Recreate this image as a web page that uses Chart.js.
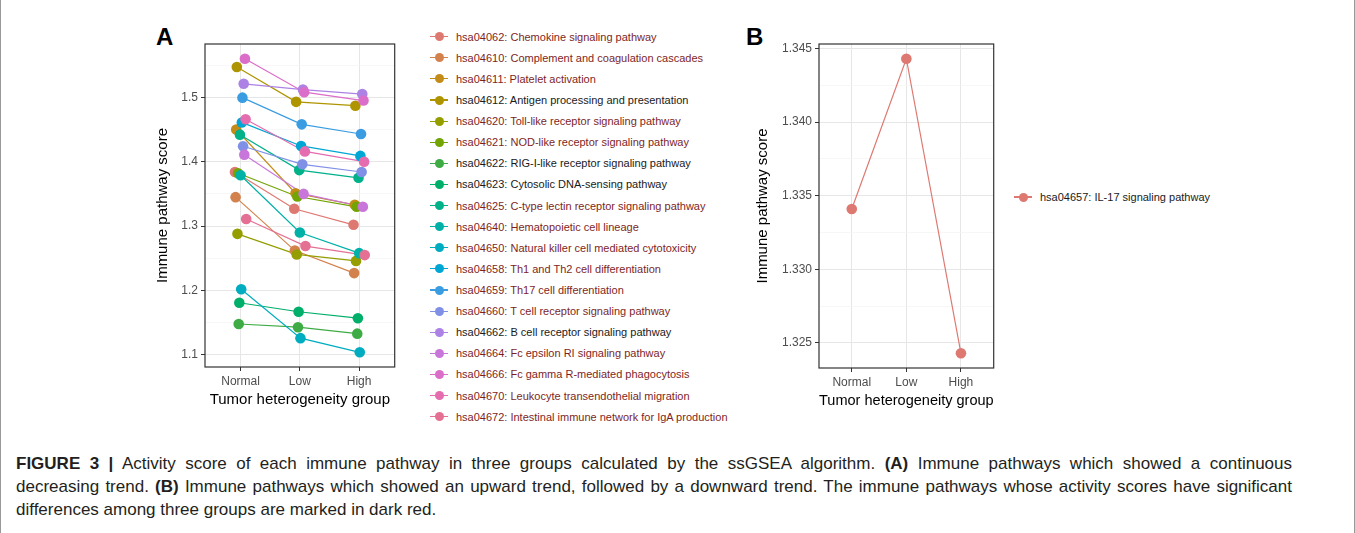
<!DOCTYPE html>
<html>
<head>
<meta charset="utf-8">
<script src="https://cdn.jsdelivr.net/npm/chart.js@4.4.1/dist/chart.umd.min.js"></script>
<style>
	html, body { margin: 0; padding: 0; background: #fff; }
	body { width: 1355px; height: 533px; position: relative; overflow: hidden; font-family: 'Liberation Sans', Arial, sans-serif; }
	.frame { position: absolute; left: 0; top: 0; width: 1353px; height: 533px; border-left: 1px solid #999; border-right: 1px solid #999; }
	canvas { position: absolute; top: 0; }
	#chartA { left: 150px; }
	#chartB { left: 750px; }
	.tag { position: absolute; top: 25px; font-size: 24px; line-height: 24px; font-weight: bold; color: #000; }
	.legend { position: absolute; top: 0; font-size: 11px; }
	.item { position: absolute; left: 0; height: 14px; white-space: nowrap; }
	.key-line { position: absolute; left: 0; top: 6.4px; width: 18px; height: 1.2px; }
	.key-dot { position: absolute; left: 4.5px; top: 2.5px; width: 9px; height: 9px; border-radius: 50%; }
	.item span { position: absolute; left: 26px; top: 0; line-height: 14px; }
	.caption { position: absolute; left: 16px; top: 452px; width: 1276px; font-size: 17px; line-height: 23px; color: #231f20; }
	.caption div { white-space: nowrap; }
	.caption .full { text-align: justify; text-align-last: justify; white-space: normal; }
</style>
</head>
<body>
<div class="frame"></div>
<div class="tag" style="left:156px">A</div>
<div class="tag" style="left:746px">B</div>
<canvas id="chartA" width="250" height="420"></canvas>
<canvas id="chartB" width="249" height="421"></canvas>
<div class="legend" id="legendA" style="left:430px"></div>
<div class="legend" id="legendB" style="left:1014px"></div>
<div class="caption">
	<div class="full"><b>FIGURE 3 |</b> Activity score of each immune pathway in three groups calculated by the ssGSEA algorithm. <b>(A)</b> Immune pathways which showed a continuous</div>
	<div class="full">decreasing trend. <b>(B)</b> Immune pathways which showed an upward trend, followed by a downward trend. The immune pathways whose activity scores have significant</div>
	<div>differences among three groups are marked in dark red.</div>
</div>
<script>
// Группы по оси X
const groups = ['Normal', 'Low', 'High'];

// Панель A: пути с непрерывным снижением
const pathwayCodes = [
	'hsa04062', 'hsa04610', 'hsa04611', 'hsa04612', 'hsa04620', 'hsa04621', 'hsa04622',
	'hsa04623', 'hsa04625', 'hsa04640', 'hsa04650', 'hsa04658', 'hsa04659', 'hsa04660',
	'hsa04662', 'hsa04664', 'hsa04666', 'hsa04670', 'hsa04672'
];
const pathwayNames = [
	'Chemokine signaling pathway',
	'Complement and coagulation cascades',
	'Platelet activation',
	'Antigen processing and presentation',
	'Toll-like receptor signaling pathway',
	'NOD-like receptor signaling pathway',
	'RIG-I-like receptor signaling pathway',
	'Cytosolic DNA-sensing pathway',
	'C-type lectin receptor signaling pathway',
	'Hematopoietic cell lineage',
	'Natural killer cell mediated cytotoxicity',
	'Th1 and Th2 cell differentiation',
	'Th17 cell differentiation',
	'T cell receptor signaling pathway',
	'B cell receptor signaling pathway',
	'Fc epsilon RI signaling pathway',
	'Fc gamma R-mediated phagocytosis',
	'Leukocyte transendothelial migration',
	'Intestinal immune network for IgA production'
];
const significant = [1, 1, 1, 0, 1, 1, 0, 0, 1, 1, 1, 1, 1, 1, 0, 1, 1, 1, 1];
const normalScores = [1.384, 1.345, 1.450, 1.547, 1.288, 1.382, 1.148, 1.181, 1.442, 1.379, 1.202, 1.461, 1.4995, 1.424, 1.521, 1.411, 1.560, 1.466, 1.311];
const lowScores = [1.327, 1.262, 1.351, 1.493, 1.256, 1.346, 1.143, 1.167, 1.387, 1.290, 1.126, 1.4245, 1.458, 1.396, 1.512, 1.350, 1.508, 1.416, 1.269];
const highScores = [1.302, 1.227, 1.333, 1.487, 1.246, 1.330, 1.133, 1.157, 1.375, 1.258, 1.104, 1.409, 1.443, 1.384, 1.505, 1.330, 1.495, 1.400, 1.255];

// Панель B: подъём, затем спад
const il17Code = 'hsa04657';
const il17Name = 'IL-17 signaling pathway';
const il17Scores = [1.3341, 1.3443, 1.3243];

const darkRed = '#7d1f1f';

// Палитра в стиле ggplot (hcl), немного приглушённая
function hclColor(h, L, C) {
	const rad = h * Math.PI / 180;
	const u = C * Math.cos(rad), v = C * Math.sin(rad);
	const Y = Math.pow((L + 16) / 116, 3);
	const up = u / (13 * L) + 0.1978398, vp = v / (13 * L) + 0.4683363;
	const X = 9 * Y * up / (4 * vp);
	const Z = Y * (12 - 3 * up - 20 * vp) / (4 * vp);
	const lin = [
		3.2404542 * X - 1.5371385 * Y - 0.4985314 * Z,
		-0.969266 * X + 1.8760108 * Y + 0.041556 * Z,
		0.0556434 * X - 0.2040259 * Y + 1.0572252 * Z
	];
	return '#' + lin.map(c => {
		c = c <= 0.0031308 ? 12.92 * c : 1.055 * Math.pow(c, 1 / 2.4) - 0.055;
		c = Math.round(Math.min(1, Math.max(0, c)) * 255);
		return c.toString(16).padStart(2, '0');
	}).join('');
}
function huePalette(n) {
	const out = [];
	for (let i = 0; i < n; i++) out.push(hclColor(15 + i * 360 / n, 62, 76));
	return out;
}

Chart.defaults.font.family = "'Liberation Sans', Arial, sans-serif";
Chart.defaults.animation = false;

const panelBorder = {
	id: 'panelBorder',
	afterDraw(chart) {
		const { ctx, chartArea: a } = chart;
		ctx.save();
		ctx.strokeStyle = '#333';
		ctx.lineWidth = 1.2;
		ctx.strokeRect(a.left, a.top, a.right - a.left, a.bottom - a.top);
		ctx.restore();
	}
};

// Ось значений: шаг с мелкой сеткой посередине, как в ggplot
function scoreAxis(values, first, step, digits, width) {
	const lo = Math.min(...values), hi = Math.max(...values);
	const pad = (hi - lo) * 0.05;
	return {
		min: lo - pad,
		max: hi + pad,
		afterFit(scale) { scale.width = width; },
		afterBuildTicks(scale) {
			const ticks = [];
			for (let k = 0; first + k * step / 2 <= scale.max + 1e-9; k++) {
				const v = first + k * step / 2;
				if (v >= scale.min) ticks.push({ value: v, minor: k % 2 === 1 });
			}
			scale.ticks = ticks;
		},
		ticks: {
			color: '#4d4d4d',
			font: { size: 12 },
			padding: 3,
			callback: (value, i, ticks) => (ticks[i].minor ? '' : value.toFixed(digits))
		},
		grid: {
			color: c => (c.tick && c.tick.minor ? '#f3f3f3' : '#e6e6e6'),
			lineWidth: c => (c.tick && c.tick.minor ? 0.7 : 1),
			tickColor: c => (c.tick && c.tick.minor ? 'rgba(0,0,0,0)' : '#333'),
			tickLength: 4
		},
		border: { display: false },
		title: { display: true, text: 'Immune pathway score', color: '#000', font: { size: 15 }, padding: { top: 4, bottom: 4 } }
	};
}

const groupAxis = {
	min: 0.4,
	max: 3.6,
	afterFit(scale) { scale.height = 53; },
	afterBuildTicks(scale) { scale.ticks = groups.map((g, j) => ({ value: j + 1 })); },
	ticks: { color: '#4d4d4d', font: { size: 12 }, padding: 3, callback: v => groups[v - 1] },
	grid: { color: '#e6e6e6', tickColor: '#333', tickLength: 4 },
	border: { display: false },
	title: { display: true, text: 'Tumor heterogeneity group', color: '#000', font: { size: 15 }, padding: { top: 0, bottom: 11 } }
};

// Сдвиг групп по X (position_dodge(0.2))
function dodge(i, n) {
	return (i - (n - 1) / 2) * 0.2 / n;
}

function buildDatasets(series) {
	const n = series.length;
	const lines = series.map((s, i) => ({
		data: s.points, showLine: true, borderColor: s.color, borderWidth: 1.2,
		pointRadius: 0, order: 100 + n - i
	}));
	const dots = series.map((s, i) => ({
		data: s.points, showLine: false, backgroundColor: s.color, borderWidth: 0,
		pointRadius: 5.3, pointHoverRadius: 5.3, order: n - i
	}));
	return [...lines, ...dots];
}

function makeChart(id, series, yAxis, padding) {
	return new Chart(document.getElementById(id), {
		type: 'scatter',
		data: { datasets: buildDatasets(series) },
		options: {
			responsive: false,
			layout: { padding },
			plugins: { legend: { display: false }, tooltip: { enabled: false } },
			scales: { x: groupAxis, y: yAxis }
		},
		plugins: [panelBorder]
	});
}

function fillLegend(id, series, firstTop) {
	const box = document.getElementById(id);
	series.forEach((s, i) => {
		const item = document.createElement('div');
		item.className = 'item';
		item.style.top = (firstTop + i * 21.11) + 'px';
		item.innerHTML = '<div class="key-line" style="background:' + s.color + '"></div>' +
			'<div class="key-dot" style="background:' + s.color + '"></div>' +
			'<span style="color:' + s.textColor + '">' + s.label + '</span>';
		box.appendChild(item);
	});
}

const colorsA = huePalette(pathwayCodes.length);
const seriesA = pathwayCodes.map((code, i) => ({
	label: code + ': ' + pathwayNames[i],
	color: colorsA[i],
	textColor: significant[i] ? darkRed : '#1a1a1a',
	points: [normalScores[i], lowScores[i], highScores[i]].map((y, j) => ({
		x: j + 1 + dodge(i, pathwayCodes.length), y
	}))
}));

const seriesB = [{
	label: il17Code + ': ' + il17Name,
	color: huePalette(1)[0],
	textColor: '#1a1a1a',
	points: il17Scores.map((y, j) => ({ x: j + 1, y }))
}];

makeChart('chartA', seriesA,
	scoreAxis([...normalScores, ...lowScores, ...highScores], 1.1, 0.1, 1, 55),
	{ top: 44, right: 4, left: 0, bottom: 0 });
makeChart('chartB', seriesB,
	scoreAxis(il17Scores, 1.325, 0.005, 3, 69),
	{ top: 44, right: 4, left: 0, bottom: 0 });

fillLegend('legendA', seriesA, 29.7);
fillLegend('legendB', seriesB, 190);
</script>
</body>
</html>
